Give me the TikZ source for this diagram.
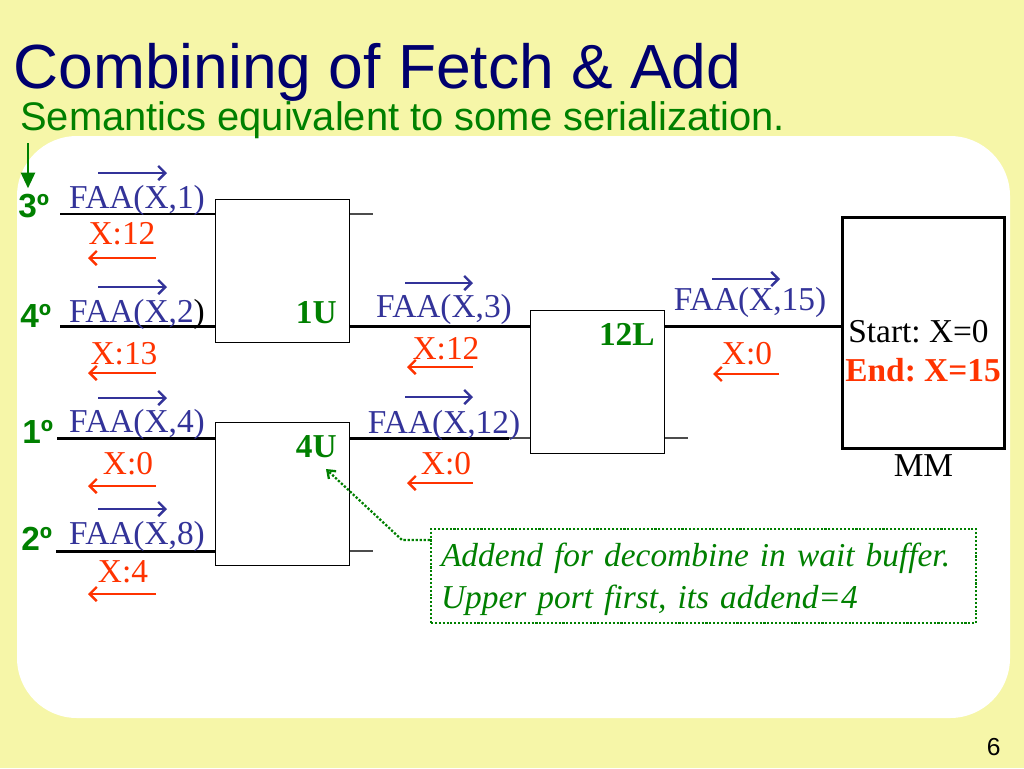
\documentclass[tikz,border=0pt]{standalone}
\usepackage{fontspec}
\setmainfont{Liberation Serif}
\setsansfont{Liberation Sans}
\usepackage{tikz}
\usetikzlibrary{arrows.meta,positioning}
\definecolor{paper}{RGB}{246,246,168}
\definecolor{heading}{RGB}{0,0,110}
\definecolor{fwd}{RGB}{51,51,153}
\definecolor{back}{RGB}{255,51,0}
\definecolor{notegreen}{RGB}{0,128,0}
\newcommand{\labsize}{\fontsize{19}{24}\selectfont}
\frenchspacing

\begin{document}
\begin{tikzpicture}[x=0.02cm, y=-0.02cm, inner sep=0pt, font=\labsize,
  sw/.style={draw, line width=0.8pt, minimum width=2.68cm, minimum height=2.86cm, anchor=north west},
  wire/.style={line width=1.7pt},
  stub/.style={black!70, line width=0.7pt},
  go/.style={fwd, line width=1.4pt, -{Straight Barb[length=4pt,width=8pt]}},
  ret/.style={back, line width=1.4pt, -{Straight Barb[length=4pt,width=8pt]}}]
  \path[use as bounding box, fill=paper] (0,0) rectangle (1024,768);
  \fill[white, rounded corners=1.2cm] (17,136) rectangle (1010,718);

  \node[anchor=base west, text=heading, font=\sffamily\fontsize{35.5}{40}\selectfont]
    (title) at (13,88) {Combining of Fetch \& Add};
  \node[anchor=base west, text=notegreen, font=\sffamily\fontsize{22.7}{26}\selectfont]
    (sub) at (20,130) {Semantics equivalent to some serialization.};

  % switches and memory
  \node[sw] (u1) at (215,199) {};
  \node[sw] (u4) at (215,422) {};
  \node[sw] (l12) at (530,310) {};
  \node[sw, line width=1.7pt, minimum width=3.24cm, minimum height=4.62cm] (mm) at (841,216) {};
  \node[anchor=base east, text=notegreen, font=\labsize\bfseries] (t1u) at (337,323) {1U};
  \node[anchor=base east, text=notegreen, font=\labsize\bfseries] (t4u) at (337,457) {4U};
  \node[anchor=base east, text=notegreen, font=\labsize\bfseries] (t12l) at (655,345) {12L};
  \node[anchor=base west] (start) at (848,342) {Start: X=0};
  \node[anchor=base west, text=back, font=\labsize\bfseries] (end) at (845,381) {End: X=15};
  \node[below=0.08cm of mm] (mmlbl) {MM};

  % ports
  \coordinate (p3) at (60,214);
  \coordinate (p4) at (60,326);
  \coordinate (p1) at (57,438);
  \coordinate (p2) at (56,551);
  \draw[wire] (p3) -- (p3 -| u1.west);
  \draw[wire] (p4) -- (p4 -| u1.west);
  \draw[wire] (p1) -- (p1 -| u4.west);
  \draw[wire] (p2) -- (p2 -| u4.west);
  \draw[stub] (u1.east |- p3) -- ++(23,0);
  \draw[wire] (u1.east |- p4) -- (l12.west |- p4);
  \draw[stub] (u4.east |- p1) -- (l12.west |- p1);
  \draw[wire] (u4.east |- p1) -- ++(159,0);
  \draw[stub] (u4.east |- p2) -- ++(23,0);
  \draw[wire] (l12.east |- p4) -- (mm.west |- p4);
  \draw[stub] (l12.east |- p1) -- ++(23,0);

  \node[anchor=base west, text=notegreen, font=\sffamily\bfseries\labsize] (o3) at (18,217) {3º};
  \node[anchor=base west, text=notegreen, font=\sffamily\bfseries\labsize] (o4) at (20,327) {4º};
  \node[anchor=base west, text=notegreen, font=\sffamily\bfseries\labsize] (o1) at (22,443) {1º};
  \node[anchor=base west, text=notegreen, font=\sffamily\bfseries\labsize] (o2) at (21,550) {2º};
  \coordinate (first) at (28,143);
  \draw[notegreen, line width=1.5pt, -{Triangle[length=9pt,width=8pt]}, shorten >=0.1cm] (first) -- (first |- o3.north);

  % requests and replies
  \node[anchor=base, text=fwd] (q1) at (137,208) {FAA(X,1)};
  \node[anchor=base, text=fwd] (q2) at (137,322) {FAA(X,2\textcolor{black}{)}};
  \node[anchor=base, text=fwd] (q4) at (137,432) {FAA(X,4)};
  \node[anchor=base, text=fwd] (q8) at (137,544) {FAA(X,8)};
  \node[anchor=base, text=fwd] (q3) at (444,317) {FAA(X,3)};
  \node[anchor=base, text=fwd] (q12) at (444,433) {FAA(X,12)};
  \node[anchor=base, text=fwd] (q15) at (750,310) {FAA(X,15)};
  \node[anchor=base, text=back] (a1) at (122,244) {X:12};
  \node[anchor=base, text=back] (a2) at (124,364) {X:13};
  \node[anchor=base, text=back] (a4) at (128,474) {X:0};
  \node[anchor=base, text=back] (a8) at (123,582) {X:4};
  \node[anchor=base, text=back] (a3) at (446,359) {X:12};
  \node[anchor=base, text=back] (a12) at (446,474) {X:0};
  \node[anchor=base, text=back] (a15) at (747,364) {X:0};
  \draw[go] (98,173) -- (167,173);
  \draw[go] (98,287) -- (167,287);
  \draw[go] (98,398) -- (167,398);
  \draw[go] (98,509) -- (167,509);
  \draw[go] (405,283) -- (473,283);
  \draw[go] (405,397) -- (473,397);
  \draw[go] (712,279) -- (780,279);
  \draw[ret] (156,258) -- (88,258);
  \draw[ret] (156,373) -- (88,373);
  \draw[ret] (156,486) -- (88,486);
  \draw[ret] (156,594) -- (88,594);
  \draw[ret] (473,367) -- (407,367);
  \draw[ret] (473,483) -- (407,483);
  \draw[ret] (779,374) -- (713,374);

  % wait buffer note
  \node[draw=notegreen, densely dotted, line width=1.2pt, text=notegreen, font=\labsize\itshape,
    anchor=north west, inner xsep=0.2cm, inner ysep=0.16cm, text width=10.5cm, align=left]
    (memo) at (430,528) {\rule{0pt}{0.58cm}Addend for decombine in wait buffer.\\ Upper port first, its addend=4};
  \coordinate (bend) at (402,540);
  \coordinate (tip) at (326,469);
  \draw[notegreen, densely dotted, line width=1.3pt, -{Straight Barb[length=4pt,width=6pt]}]
    (memo.west |- bend) -- (bend) -- (tip);

  \node[anchor=base east, font=\sffamily\fontsize{14}{16}\selectfont] (page) at (1001,755) {6};
\end{tikzpicture}
\end{document}
